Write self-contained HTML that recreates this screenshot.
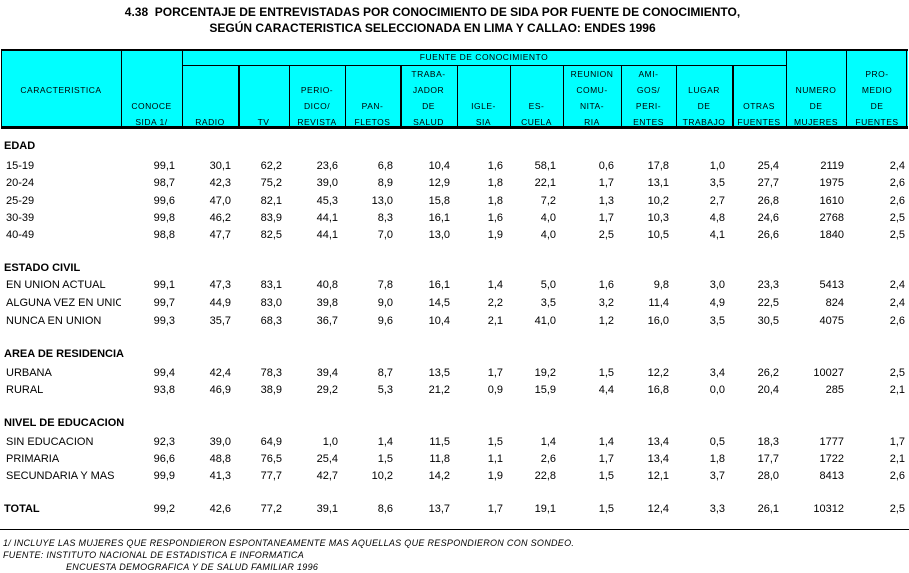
<!DOCTYPE html><html><head><meta charset="utf-8"><style>
body{margin:0;width:909px;height:573px;background:#fff;position:relative;font-family:"Liberation Sans",Arial,sans-serif;color:#000;overflow:hidden}
.t{position:absolute;left:0;width:865px;text-align:center;font-weight:bold;font-size:12px}
.hd{position:absolute;left:1px;top:49px;width:907px;height:80px;background:#00ffff;border-top:2px solid #000;border-bottom:3px solid #000;box-sizing:border-box}
.v{position:absolute;top:0;bottom:0;width:1px;background:#000}
.h{position:absolute;font-size:8.5px;letter-spacing:0.5px;text-align:center;line-height:16px;white-space:nowrap}
.r{position:absolute;left:1px;display:flex;font-size:11px;height:14px;line-height:14px;white-space:nowrap}
.r span{text-align:right;padding-right:7px;box-sizing:border-box;overflow:hidden}
.r span:first-child{text-align:left;padding-left:5px}
.s{position:absolute;left:4px;font-weight:bold;font-size:11px}
.f{position:absolute;font-style:italic;font-size:9px;letter-spacing:0.3px}
</style></head><body>
<div class="t" style="top:5px">4.38 &nbsp;PORCENTAJE DE ENTREVISTADAS POR CONOCIMIENTO DE SIDA POR FUENTE DE CONOCIMIENTO,</div>
<div class="t" style="top:21px">SEGÚN CARACTERISTICA SELECCIONADA EN LIMA Y CALLAO: ENDES 1996</div>
<div class="hd">
<div class="v" style="left:0"></div><div class="v" style="left:120px"></div><div class="v" style="left:181px"></div>
<div style="position:absolute;left:181px;width:604px;top:14px;height:1px;background:#000"></div>
<div class="v" style="left:237px;top:15px;width:2px"></div><div class="v" style="left:288px;top:15px"></div><div class="v" style="left:344px;top:15px"></div><div class="v" style="left:399px;top:15px;width:2px"></div><div class="v" style="left:456px;top:15px"></div><div class="v" style="left:509px;top:15px"></div><div class="v" style="left:562px;top:15px"></div><div class="v" style="left:620px;top:15px"></div><div class="v" style="left:675px;top:15px"></div><div class="v" style="left:731px;top:15px;width:2px"></div>
<div class="v" style="left:785px"></div><div class="v" style="left:845px"></div><div class="v" style="left:905px"></div>
<div class="h" style="left:181px;width:604px;top:-2px">FUENTE DE CONOCIMIENTO</div>
<div class="h" style="left:0;width:120px;top:31px">CARACTERISTICA</div>
<div class="h" style="left:120px;width:61px;top:47px">CONOCE<br>SIDA 1/</div>
<div class="h" style="left:181px;width:56px;top:63px">RADIO</div>
<div class="h" style="left:237px;width:51px;top:63px">TV</div>
<div class="h" style="left:288px;width:56px;top:31px">PERIO-<br>DICO/<br>REVISTA</div>
<div class="h" style="left:344px;width:55px;top:47px">PAN-<br>FLETOS</div>
<div class="h" style="left:399px;width:57px;top:15px">TRABA-<br>JADOR<br>DE<br>SALUD</div>
<div class="h" style="left:456px;width:53px;top:47px">IGLE-<br>SIA</div>
<div class="h" style="left:509px;width:53px;top:47px">ES-<br>CUELA</div>
<div class="h" style="left:562px;width:58px;top:15px">REUNION<br>COMU-<br>NITA-<br>RIA</div>
<div class="h" style="left:620px;width:55px;top:15px">AMI-<br>GOS/<br>PERI-<br>ENTES</div>
<div class="h" style="left:675px;width:56px;top:31px">LUGAR<br>DE<br>TRABAJO</div>
<div class="h" style="left:731px;width:54px;top:47px">OTRAS<br>FUENTES</div>
<div class="h" style="left:785px;width:60px;top:31px">NUMERO<br>DE<br>MUJERES</div>
<div class="h" style="left:845px;width:62px;top:15px">PRO-<br>MEDIO<br>DE<br>FUENTES</div>
</div>
<style>.r span:nth-child(1){width:120px}.r span:nth-child(2){width:61px}.r span:nth-child(3){width:56px}.r span:nth-child(4){width:51px}.r span:nth-child(5){width:56px}.r span:nth-child(6){width:55px}.r span:nth-child(7){width:57px}.r span:nth-child(8){width:53px}.r span:nth-child(9){width:53px}.r span:nth-child(10){width:58px}.r span:nth-child(11){width:55px}.r span:nth-child(12){width:56px}.r span:nth-child(13){width:54px}.r span:nth-child(14){width:60px;padding-right:2px}.r span:nth-child(15){width:62px;padding-right:3px}</style>
<div class="s" style="top:140px">EDAD</div>
<div class="r" style="top:159px"><span>15-19</span><span>99,1</span><span>30,1</span><span>62,2</span><span>23,6</span><span>6,8</span><span>10,4</span><span>1,6</span><span>58,1</span><span>0,6</span><span>17,8</span><span>1,0</span><span>25,4</span><span>2119</span><span>2,4</span></div>
<div class="r" style="top:176px"><span>20-24</span><span>98,7</span><span>42,3</span><span>75,2</span><span>39,0</span><span>8,9</span><span>12,9</span><span>1,8</span><span>22,1</span><span>1,7</span><span>13,1</span><span>3,5</span><span>27,7</span><span>1975</span><span>2,6</span></div>
<div class="r" style="top:194px"><span>25-29</span><span>99,6</span><span>47,0</span><span>82,1</span><span>45,3</span><span>13,0</span><span>15,8</span><span>1,8</span><span>7,2</span><span>1,3</span><span>10,2</span><span>2,7</span><span>26,8</span><span>1610</span><span>2,6</span></div>
<div class="r" style="top:211px"><span>30-39</span><span>99,8</span><span>46,2</span><span>83,9</span><span>44,1</span><span>8,3</span><span>16,1</span><span>1,6</span><span>4,0</span><span>1,7</span><span>10,3</span><span>4,8</span><span>24,6</span><span>2768</span><span>2,5</span></div>
<div class="r" style="top:228px"><span>40-49</span><span>98,8</span><span>47,7</span><span>82,5</span><span>44,1</span><span>7,0</span><span>13,0</span><span>1,9</span><span>4,0</span><span>2,5</span><span>10,5</span><span>4,1</span><span>26,6</span><span>1840</span><span>2,5</span></div>
<div class="s" style="top:262px">ESTADO CIVIL</div>
<div class="r" style="top:278px"><span>EN UNION ACTUAL</span><span>99,1</span><span>47,3</span><span>83,1</span><span>40,8</span><span>7,8</span><span>16,1</span><span>1,4</span><span>5,0</span><span>1,6</span><span>9,8</span><span>3,0</span><span>23,3</span><span>5413</span><span>2,4</span></div>
<div class="r" style="top:296px"><span>ALGUNA VEZ EN UNION</span><span>99,7</span><span>44,9</span><span>83,0</span><span>39,8</span><span>9,0</span><span>14,5</span><span>2,2</span><span>3,5</span><span>3,2</span><span>11,4</span><span>4,9</span><span>22,5</span><span>824</span><span>2,4</span></div>
<div class="r" style="top:314px"><span>NUNCA EN UNION</span><span>99,3</span><span>35,7</span><span>68,3</span><span>36,7</span><span>9,6</span><span>10,4</span><span>2,1</span><span>41,0</span><span>1,2</span><span>16,0</span><span>3,5</span><span>30,5</span><span>4075</span><span>2,6</span></div>
<div class="s" style="top:348px">AREA DE RESIDENCIA</div>
<div class="r" style="top:366px"><span>URBANA</span><span>99,4</span><span>42,4</span><span>78,3</span><span>39,4</span><span>8,7</span><span>13,5</span><span>1,7</span><span>19,2</span><span>1,5</span><span>12,2</span><span>3,4</span><span>26,2</span><span>10027</span><span>2,5</span></div>
<div class="r" style="top:383px"><span>RURAL</span><span>93,8</span><span>46,9</span><span>38,9</span><span>29,2</span><span>5,3</span><span>21,2</span><span>0,9</span><span>15,9</span><span>4,4</span><span>16,8</span><span>0,0</span><span>20,4</span><span>285</span><span>2,1</span></div>
<div class="s" style="top:417px">NIVEL DE EDUCACION</div>
<div class="r" style="top:435px"><span>SIN EDUCACION</span><span>92,3</span><span>39,0</span><span>64,9</span><span>1,0</span><span>1,4</span><span>11,5</span><span>1,5</span><span>1,4</span><span>1,4</span><span>13,4</span><span>0,5</span><span>18,3</span><span>1777</span><span>1,7</span></div>
<div class="r" style="top:452px"><span>PRIMARIA</span><span>96,6</span><span>48,8</span><span>76,5</span><span>25,4</span><span>1,5</span><span>11,8</span><span>1,1</span><span>2,6</span><span>1,7</span><span>13,4</span><span>1,8</span><span>17,7</span><span>1722</span><span>2,1</span></div>
<div class="r" style="top:469px"><span>SECUNDARIA Y MAS</span><span>99,9</span><span>41,3</span><span>77,7</span><span>42,7</span><span>10,2</span><span>14,2</span><span>1,9</span><span>22,8</span><span>1,5</span><span>12,1</span><span>3,7</span><span>28,0</span><span>8413</span><span>2,6</span></div>
<div class="r" style="top:502px"><span style="font-weight:bold;padding-left:3px">TOTAL</span><span>99,2</span><span>42,6</span><span>77,2</span><span>39,1</span><span>8,6</span><span>13,7</span><span>1,7</span><span>19,1</span><span>1,5</span><span>12,4</span><span>3,3</span><span>26,1</span><span>10312</span><span>2,5</span></div>
<div style="position:absolute;left:0;top:529px;width:909px;height:1px;background:#000"></div>
<div class="f" style="left:3px;top:538px">1/ INCLUYE LAS MUJERES QUE RESPONDIERON ESPONTANEAMENTE MAS AQUELLAS QUE RESPONDIERON CON SONDEO.</div>
<div class="f" style="left:3px;top:550px">FUENTE: INSTITUTO NACIONAL DE ESTADISTICA E INFORMATICA</div>
<div class="f" style="left:66px;top:562px">ENCUESTA DEMOGRAFICA Y DE SALUD FAMILIAR 1996</div>
</body></html>
